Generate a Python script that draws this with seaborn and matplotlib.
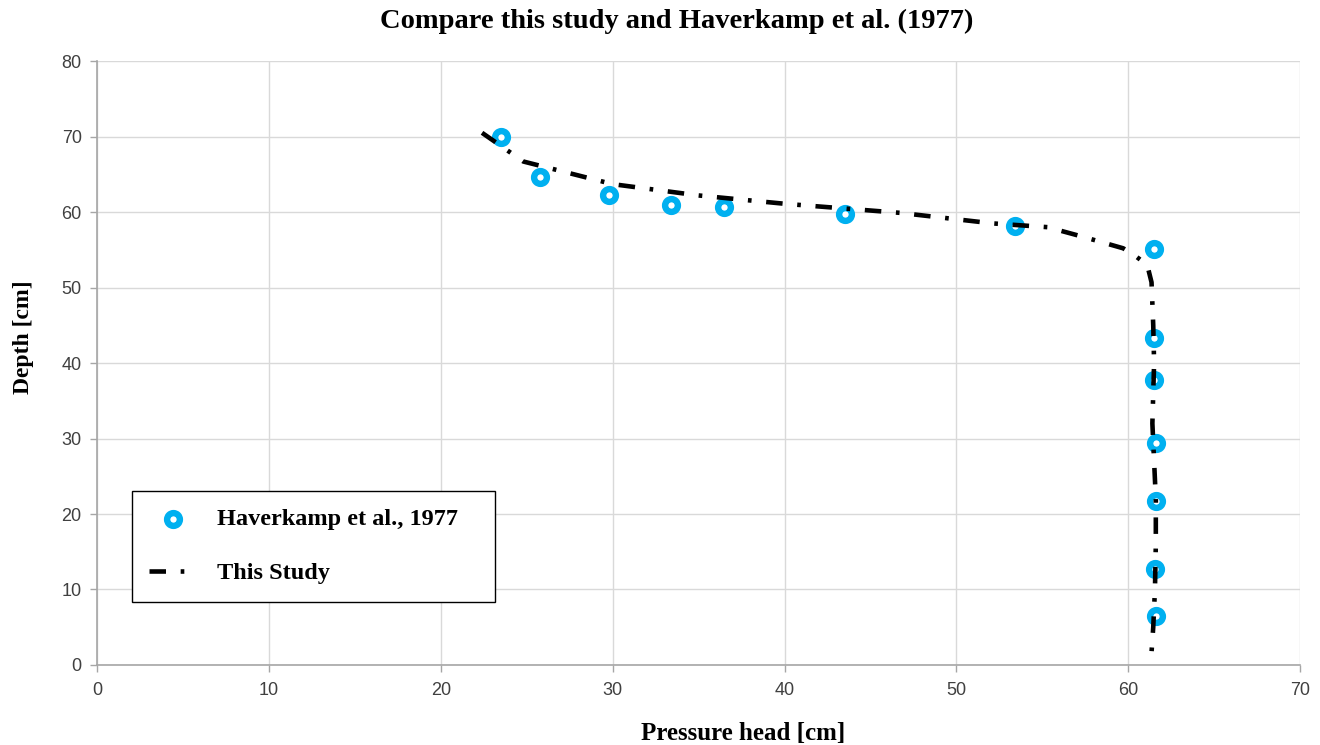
import numpy as np
import pandas as pd
import matplotlib
matplotlib.use("Agg")
import matplotlib.pyplot as plt
import seaborn as sns

# Haverkamp et al., 1977 (measured points)
hav_head = [23.5, 25.8, 29.8, 33.4, 36.5, 43.5, 53.4, 61.5, 61.5, 61.5, 61.6, 61.6, 61.55, 61.6]
hav_depth = [69.9, 64.6, 62.3, 60.9, 60.7, 59.7, 58.1, 55.1, 43.3, 37.7, 29.4, 21.7, 12.7, 6.5]

# This study (simulated profile)
study_head = [22.4, 24.8, 30.0, 35.0, 40.0, 46.7, 52.1, 55.3, 57.4, 59.7, 60.4, 61.1,
              61.35, 61.45, 61.5, 61.4, 61.5, 61.6, 61.6, 61.55, 61.45, 61.3]
study_depth = [70.5, 66.7, 63.7, 62.2, 61.1, 59.9, 58.5, 58.0, 56.7, 55.2, 54.2, 53.0,
               50.7, 45.0, 40.0, 32.0, 27.0, 22.0, 16.0, 10.0, 5.0, 0.0]

hav = pd.DataFrame({"head": hav_head, "depth": hav_depth})
study = pd.DataFrame({"head": study_head, "depth": study_depth})

sns.set_style("white")
serif = ["Liberation Serif", "DejaVu Serif"]
plt.rcParams["font.family"] = ["Liberation Sans", "DejaVu Sans"]

fig = plt.figure(figsize=(13.2, 7.45), dpi=100)
ax = fig.add_axes([0.0735, 0.1074, 0.9115, 0.8106])

sns.scatterplot(data=hav, x="head", y="depth", ax=ax, marker="o", s=85,
                facecolor="white", edgecolor="#00B0F0", linewidth=4.6,
                label="Haverkamp et al., 1977", zorder=3)
sns.lineplot(data=study, x="head", y="depth", ax=ax, sort=False, estimator=None,
             color="black", linewidth=3.3, linestyle=(0, (3.6, 3.2, 0.8, 3.2)),
             label="This Study", zorder=4)

ax.set_xlim(0, 70)
ax.set_ylim(0, 80)
ax.set_xticks(np.arange(0, 71, 10))
ax.set_yticks(np.arange(0, 81, 10))
ax.grid(True, color="#d9d9d9", linewidth=1)
for s in ["top", "right"]:
    ax.spines[s].set_visible(False)
for s in ["left", "bottom"]:
    ax.spines[s].set_color("#a6a6a6")
    ax.spines[s].set_linewidth(1.2)
ax.tick_params(axis="both", which="both", direction="out", length=5, width=1,
               color="#a6a6a6", labelsize=13, labelcolor="#404040", bottom=True, left=True)
ax.tick_params(axis="x", pad=7)
ax.tick_params(axis="y", pad=6)

ax.set_xlabel("Pressure head [cm]", family=serif, fontsize=18, fontweight="bold",
              color="black")
ax.xaxis.set_label_coords(0.537, -0.094)
ax.set_ylabel("Depth [cm]", family=serif, fontsize=17, fontweight="bold",
              color="black")
ax.yaxis.set_label_coords(-0.0525, 0.543)
fig.suptitle("Compare this study and Haverkamp et al. (1977)", family=serif,
             fontsize=20.5, fontweight="bold", color="black", x=0.513, y=0.988)

leg = ax.legend(loc="lower left", bbox_to_anchor=(0.0288, 0.105, 0.302, 0.187), mode="expand",
                prop={"family": serif, "size": 17.5, "weight": "bold"},
                frameon=True, fancybox=False, borderpad=0.72, labelspacing=1.3,
                handlelength=2.0, handletextpad=0.8, borderaxespad=0)
leg.get_frame().set_edgecolor("black")
leg.get_frame().set_linewidth(1.0)
leg.get_frame().set_alpha(1)
for t in leg.get_texts():
    t.set_color("black")

fig.savefig("out.png", dpi=100)
